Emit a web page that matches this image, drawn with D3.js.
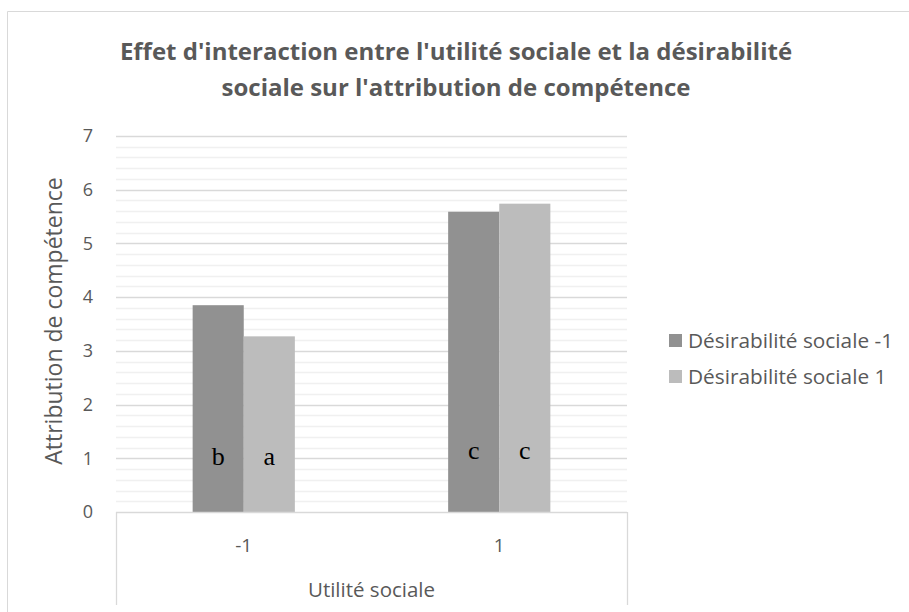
<!DOCTYPE html>
<html>
<head>
<meta charset="utf-8">
<script src="https://cdn.jsdelivr.net/npm/d3@7"></script>
<style>
  body { margin: 0; background: #fff; }
  text { font-family: "Open Sans", "Liberation Sans", sans-serif; fill: #595959; }
</style>
</head>
<body>
<div id="chart"></div>
<script>
// data
const categories = ['-1', '1'];
const seriesNames = ['Désirabilité sociale -1', 'Désirabilité sociale 1'];
const seriesValues = [
    [3.85, 5.59],   // Désirabilité sociale -1
    [3.27, 5.74]    // Désirabilité sociale 1
];
const letters = [['b', 'c'], ['a', 'c']];
const letterLevels = [[0.88, 0.99], [0.88, 0.99]];
const yTicks = [0, 1, 2, 3, 4, 5, 6, 7];
const titleLines = ["Effet d'interaction entre l'utilité sociale et la désirabilité", "sociale sur l'attribution de compétence"];

const width = 909;
const height = 612;
const colors = ['#919191', '#bcbcbc'];

const svg = d3.select('#chart')
    .append('svg')
    .attr('width', width)
    .attr('height', height);

// chart frame
svg.append('path')
    .attr('d', 'M7.5,612 V11.5 H909')
    .attr('fill', 'none')
    .attr('stroke', '#d9d9d9');

const plot = { left: 116, right: 627, top: 136, bottom: 512 };

const x = d3.scaleBand()
    .domain(categories)
    .range([plot.left, plot.right]);

const x1 = d3.scaleBand()
    .domain(seriesNames)
    .range([0, x.bandwidth()])
    .paddingOuter(1.5);

const y = d3.scaleLinear()
    .domain([0, 7])
    .range([plot.bottom, plot.top]);

// minor gridlines
const minor = d3.range(1, 35).map(i => i / 5).filter(v => Math.abs(v - Math.round(v)) > 1e-6);
svg.append('g').selectAll('line').data(minor).join('line')
    .attr('x1', plot.left).attr('x2', plot.right)
    .attr('y1', d => Math.round(y(d)) + 0.5).attr('y2', d => Math.round(y(d)) + 0.5)
    .attr('stroke', '#f0f0f0').attr('stroke-width', 1.3);

// major gridlines
svg.append('g').selectAll('line').data(yTicks.slice(1)).join('line')
    .attr('x1', plot.left).attr('x2', plot.right)
    .attr('y1', d => Math.round(y(d)) + 0.5).attr('y2', d => Math.round(y(d)) + 0.5)
    .attr('stroke', '#d9d9d9').attr('stroke-width', 1.3);

// bars
const groups = svg.append('g').selectAll('g').data(seriesNames).join('g')
    .attr('fill', (d, i) => colors[i]);

groups.selectAll('rect')
    .data((s, si) => categories.map((c, ci) => ({ c, s, v: seriesValues[si][ci] })))
    .join('rect')
    .attr('x', d => x(d.c) + x1(d.s))
    .attr('width', x1.bandwidth())
    .attr('y', d => y(d.v))
    .attr('height', d => y(0) - y(d.v));

// significance letters
seriesNames.forEach((s, si) => {
    svg.append('g').selectAll('text')
        .data(categories.map((c, ci) => ({ c, l: letters[si][ci], v: letterLevels[si][ci] })))
        .join('text')
        .attr('x', d => x(d.c) + x1(s) + x1.bandwidth() / 2)
        .attr('y', d => y(d.v))
        .attr('text-anchor', 'middle')
        .style('font-family', '"Liberation Serif", "DejaVu Serif", serif')
        .style('font-size', '26px')
        .style('fill', '#000')
        .text(d => d.l);
});

// x axis box
const xAxis = svg.append('g').attr('stroke', '#d9d9d9').attr('fill', 'none').attr('stroke-width', 1.3);
xAxis.append('line')
    .attr('x1', plot.left).attr('x2', plot.right)
    .attr('y1', plot.bottom + 0.5).attr('y2', plot.bottom + 0.5);
xAxis.selectAll('line.t').data([plot.left, plot.right]).join('line')
    .attr('class', 't')
    .attr('x1', d => d + 0.5).attr('x2', d => d + 0.5)
    .attr('y1', plot.bottom).attr('y2', 605);

svg.append('g').selectAll('text').data(categories).join('text')
    .attr('x', d => x(d) + x.bandwidth() / 2)
    .attr('y', 552)
    .attr('text-anchor', 'middle')
    .style('font-size', '19px')
    .text(d => d);

svg.append('text')
    .attr('x', (plot.left + plot.right) / 2)
    .attr('y', 597)
    .attr('text-anchor', 'middle')
    .style('font-size', '20.5px')
    .text('Utilité sociale');

// y tick labels
svg.append('g').selectAll('text').data(yTicks).join('text')
    .attr('x', 93)
    .attr('y', d => y(d))
    .attr('dy', '0.35em')
    .attr('text-anchor', 'end')
    .style('font-size', '18px')
    .text(d => d);

// y axis title
svg.append('text')
    .attr('transform', 'translate(62,' + ((plot.top + plot.bottom) / 2 - 3) + ') rotate(-90)')
    .attr('text-anchor', 'middle')
    .style('font-size', '23px')
    .text('Attribution de compétence');

// title
svg.append('g').selectAll('text').data(titleLines).join('text')
    .attr('x', 456)
    .attr('y', (d, i) => 60 + i * 36)
    .attr('text-anchor', 'middle')
    .style('font-size', '24px')
    .style('font-weight', 'bold')
    .text(d => d);

// legend
const legend = svg.append('g').selectAll('g').data(seriesNames).join('g')
    .attr('transform', (d, i) => 'translate(669,' + (334 + i * 36) + ')');
legend.append('rect')
    .attr('width', 13).attr('height', 13)
    .attr('fill', (d, i) => colors[i]);
legend.append('text')
    .attr('x', 19).attr('y', 7)
    .attr('dy', '0.35em')
    .style('font-size', '20.8px')
    .text(d => d);
</script>
</body>
</html>
